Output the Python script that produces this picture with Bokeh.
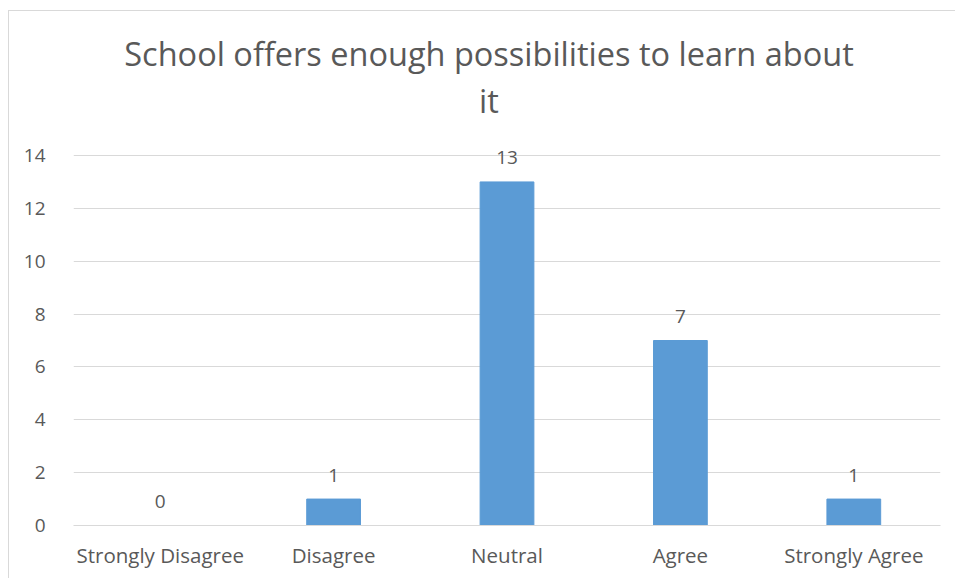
from bokeh.plotting import figure
from bokeh.models import FactorRange, Range1d, ColumnDataSource, FixedTicker
from bokeh.embed import file_html
from bokeh.resources import INLINE

# Survey responses
categories = ["Strongly Disagree", "Disagree", "Neutral", "Agree", "Strongly Agree"]
counts = [0, 1, 13, 7, 1]
y_ticks = [0, 2, 4, 6, 8, 10, 12, 14]
title_lines = ["School offers enough possibilities to learn about", "it"]

FONT = "Open Sans"
TEXT = "#595959"
GRID = "#d9d9d9"
BAR = "#5B9BD5"

# value axis spans 0..14 over 370 px; the frame reaches up to the top edge
# so the title can sit in data space above the grid
PX_PER_UNIT = 370 / 14
FRAME_H = 514
Y_TOP = FRAME_H / PX_PER_UNIT

src = ColumnDataSource(dict(cat=categories, n=counts, lbl=[str(v) for v in counts]))

p = figure(
    x_range=FactorRange(*categories, range_padding=0),
    y_range=Range1d(0, Y_TOP),
    width=947, height=568,
    output_backend="svg", toolbar_location=None,
    min_border_left=64, min_border_right=16,
    min_border_top=0, min_border_bottom=54,
    outline_line_color=None,
    margin=(10, 0, 0, 8),
    styles={"border-left": "1px solid #d9d9d9", "border-top": "1px solid #d9d9d9"},
)

p.vbar(x="cat", top="n", width=0.31, color=BAR, source=src)
p.text(x="cat", y="n", text="lbl", source=src, text_align="center",
       text_baseline="alphabetic", y_offset=-24,
       text_font={"value": FONT}, text_font_size="19px", text_color=TEXT)

# two-line chart title, centred a little left of the plot area
title_src = ColumnDataSource(dict(
    x=["Neutral", "Neutral"],
    y=[(FRAME_H - 42) / PX_PER_UNIT, (FRAME_H - 89) / PX_PER_UNIT],
    t=title_lines,
))
p.text(x="x", y="y", text="t", source=title_src, x_offset=-18,
       text_align="center", text_baseline="alphabetic",
       text_font={"value": FONT}, text_font_size="32.5px", text_color=TEXT)

# axes
p.xgrid.grid_line_color = None
p.ygrid.grid_line_color = GRID
p.ygrid.grid_line_width = 1
p.yaxis.ticker = FixedTicker(ticks=y_ticks)
for ax in (p.xaxis, p.yaxis):
    ax.major_tick_line_color = None
    ax.minor_tick_line_color = None
    ax.major_label_text_font = FONT
    ax.major_label_text_color = TEXT
p.yaxis.major_label_text_font_size = "19px"
p.xaxis.major_label_text_font_size = "20.5px"
p.yaxis.axis_line_color = None
p.yaxis.major_label_standoff = 22
p.xaxis.axis_line_color = GRID
p.xaxis.major_label_standoff = 9

open("out.html", "w").write(file_html(p, INLINE))
